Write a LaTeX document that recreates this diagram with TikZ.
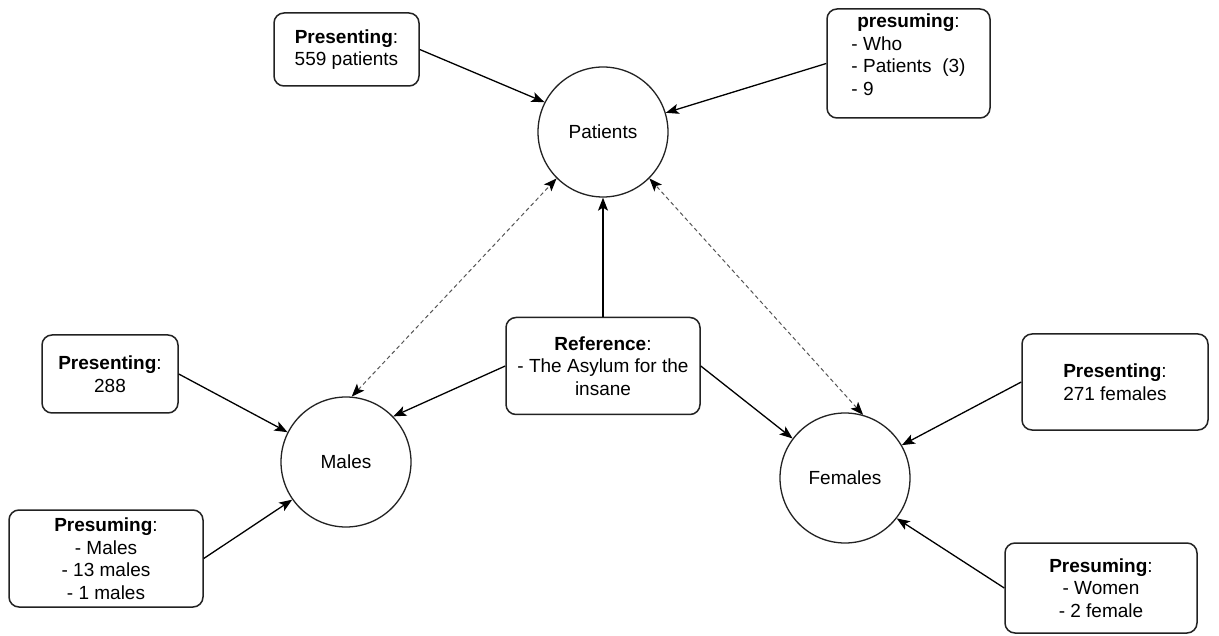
\documentclass[tikz,border=0pt]{standalone}
\usepackage{fontspec}
\setmainfont{Liberation Sans}
\usetikzlibrary{arrows.meta}
\definecolor{outline}{HTML}{222222}
\definecolor{dashgray}{HTML}{555555}
\begin{document}
\begin{tikzpicture}[x=1pt,y=-1pt,
  every node/.style={font=\fontsize{19}{22.5}\selectfont, text=black},
  entity/.style={circle, draw=outline, line width=1.3pt, minimum size=130pt, inner sep=0pt},
  notebox/.style={rectangle, rounded corners=10pt, draw=outline, line width=1.5pt,
                  align=center, inner sep=0pt},
  link/.style={line width=1.3pt, -{Stealth[length=13pt,width=10pt,inset=3pt]}},
  relation/.style={draw=dashgray, line width=1pt, dash pattern=on 4pt off 3pt,
                   {Stealth[length=13pt,width=10pt,inset=3pt,color=black]}-{Stealth[length=13pt,width=10pt,inset=3pt,color=black]}},
]
\useasboundingbox (0,0) rectangle (1219,636);

% entities
\node[entity] (pat)   at (603,132) {Patients};
\node[entity] (males) at (346,462) {Males};
\node[entity] (fem)   at (845,478) {Females};

% annotation boxes
\node[notebox, minimum width=145pt, minimum height=73pt] (b559) at (346.5,49.5)
  {\textbf{Presenting}:\\559 patients};
\node[notebox, minimum width=163pt, minimum height=109pt] (bpres) at (908.5,63.5)
  {\begin{tabular}{@{}l@{}}\multicolumn{1}{@{}c@{}}{\textbf{presuming}:}\\- Who\\- Patients~ (3)\\- 9\\[13pt]\end{tabular}};
\node[notebox, minimum width=194pt, minimum height=97pt] (ref) at (603,366)
  {\textbf{Reference}:\\- The Asylum for the\\insane};
\node[notebox, minimum width=136pt, minimum height=78pt] (b288) at (110,374)
  {\textbf{Presenting}:\\288};
\node[notebox, minimum width=194pt, minimum height=97pt] (bpm) at (106,558.5)
  {\textbf{Presuming}:\\- Males\\- 13 males\\- 1 males};
\node[notebox, minimum width=186pt, minimum height=96pt] (b271) at (1115,382)
  {\textbf{Presenting}:\\271 females};
\node[notebox, minimum width=192pt, minimum height=90pt] (bwom) at (1101,588)
  {\textbf{Presuming}:\\- Women\\- 2 female};

% connectors
\draw[link] (b559.east) -- (pat.153);
\draw[link] (bpres.west) -- (pat.17);
\draw[link] (ref.north) -- (pat.south);
\draw[link] (ref.west) -- (males.44);
\draw[link] (ref.east) -- (fem.143);
\draw[link] (b288.east) -- (males.153);
\draw[link] (bpm.east) -- (males.215);
\draw[link] (b271.west) -- (fem.30);
\draw[link] (bwom.west) -- (fem.322);
\draw[relation] (males.85) -- (pat.225);
\draw[relation] (fem.74) -- (pat.315);
\end{tikzpicture}
\end{document}
